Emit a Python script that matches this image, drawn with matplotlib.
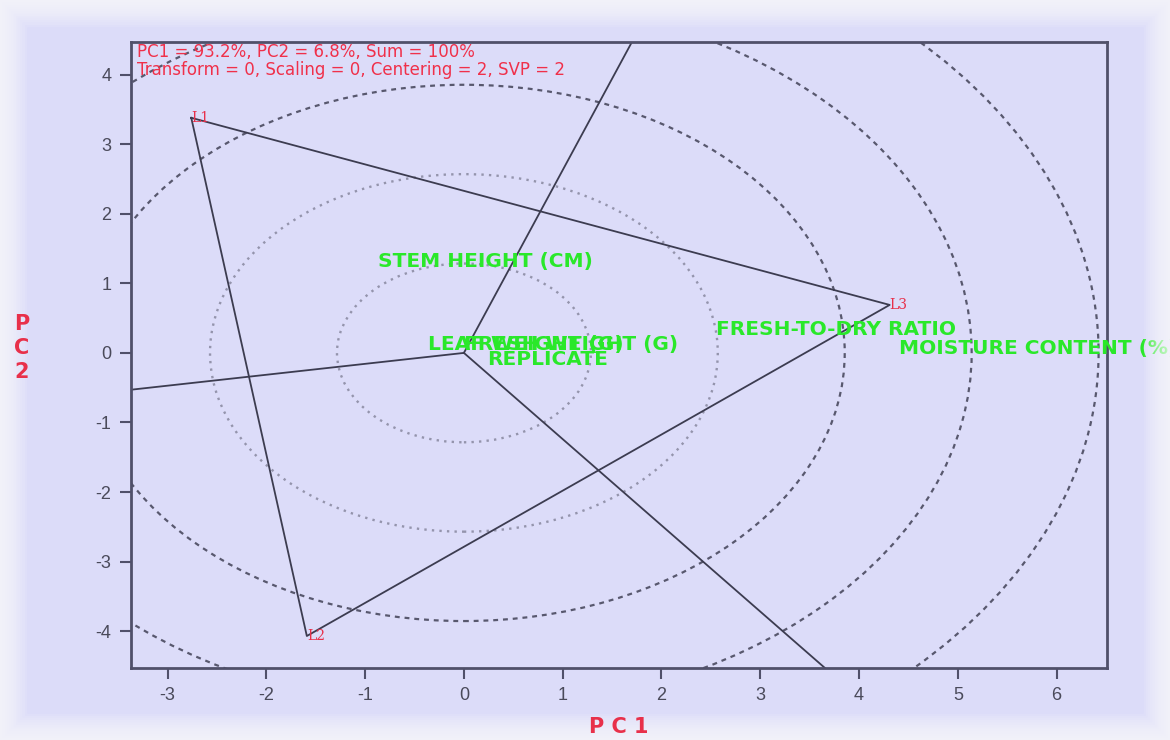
import numpy as np
import matplotlib
matplotlib.use("Agg")
import matplotlib.pyplot as plt
from matplotlib.patches import Circle, Rectangle

plt.rcParams["axes.unicode_minus"] = False

# ---- data ----
env_names = ["L1", "L2", "L3"]
env_x = [-2.76, -1.59, 4.31]
env_y = [3.38, -4.07, 0.69]

trait_names = ["STEM HEIGHT (CM)", "FRESH-TO-DRY RATIO", "MOISTURE CONTENT (%)",
               "LEAF WEIGHT (G)", "FRESH WEIGHT (G)", "REPLICATE"]
trait_x = [-0.87, 2.55, 4.40, -0.36, 0.0, 0.24]
trait_y = [1.31, 0.33, 0.06, 0.12, 0.12, -0.10]

circle_radii = [1.285, 2.57, 3.855, 5.14, 6.425]

x_ticks = [-3, -2, -1, 0, 1, 2, 3, 4, 5, 6]
y_ticks = [-4, -3, -2, -1, 0, 1, 2, 3, 4]
x_lim = (-3.37, 6.51)
y_lim = (-4.53, 4.47)

info_lines = ["PC1 = 93.2%, PC2 = 6.8%, Sum = 100%",
              "Transform = 0, Scaling = 0, Centering = 2, SVP = 2"]

# ---- figure ----
bg = "#dcdcf9"
fig = plt.figure(figsize=(11.7, 7.4), dpi=100, facecolor=bg)
# soft whitish frame around the figure
for i in range(12):
    fig.patches.append(Rectangle((0, 0), 1, 1, transform=fig.transFigure,
                                 fill=False, edgecolor="white",
                                 linewidth=2 * (12 - i) * 1.6, alpha=0.10, zorder=0))

ax = fig.add_axes([131 / 1170, 72 / 740, (1107 - 131) / 1170, (668 - 42) / 740])
ax.set_facecolor(bg)
ax.set_xlim(*x_lim)
ax.set_ylim(*y_lim)

# concentric circles
for k, r in enumerate(circle_radii):
    if k < 2:
        c = Circle((0, 0), r, fill=False, edgecolor="#9494ac", linewidth=1.7,
                   linestyle=(0, (1, 2.2)), zorder=1)
    else:
        c = Circle((0, 0), r, fill=False, edgecolor="#58586e", linewidth=1.6,
                   linestyle=(0, (2.2, 2.2)), zorder=1)
    ax.add_patch(c)

line_col = "#3c3c50"
# polygon
px = env_x + [env_x[0]]
py = env_y + [env_y[0]]
ax.plot(px, py, color=line_col, linewidth=1.3, zorder=2)

# perpendicular rays from origin to each polygon edge
for i in range(len(env_x)):
    j = (i + 1) % len(env_x)
    p1 = np.array([env_x[i], env_y[i]])
    p2 = np.array([env_x[j], env_y[j]])
    d = p2 - p1
    t = -np.dot(p1, d) / np.dot(d, d)
    foot = p1 + t * d
    u = foot / np.linalg.norm(foot)
    ax.plot([0, u[0] * 30], [0, u[1] * 30], color=line_col, linewidth=1.3, zorder=2)

# environment labels
for n, x, y in zip(env_names, env_x, env_y):
    ax.text(x, y, n, color="#e8304a", fontsize=10, family="DejaVu Serif",
            ha="left", va="center", zorder=4)

# trait labels
for n, x, y in zip(trait_names, trait_x, trait_y):
    ax.text(x, y, n, color="#2ae82a", fontsize=14.5, fontweight="bold",
            family="DejaVu Sans", ha="left", va="center", zorder=3,
            clip_on=False)

# info text
fig.text(137 / 1170, 1 - 52 / 740, info_lines[0], color="#f0304a",
         fontsize=12, family="DejaVu Sans", ha="left", va="center")
fig.text(137 / 1170, 1 - 70 / 740, info_lines[1], color="#f0304a",
         fontsize=12, family="DejaVu Sans", ha="left", va="center")

# axes styling
ax.set_xticks(x_ticks)
ax.set_yticks(y_ticks)
ax.tick_params(axis="both", direction="out", length=8, width=1.5,
               color="#50506a", labelcolor="#4a4a5a", labelsize=13, pad=6)
for lab in ax.get_xticklabels() + ax.get_yticklabels():
    lab.set_family("Liberation Sans")
for s in ax.spines.values():
    s.set_color("#50506a")
    s.set_linewidth(2)

fig.text(619 / 1170, 1 - 727 / 740, "P C 1", color="#e8304a", fontsize=15,
         fontweight="bold", family="DejaVu Sans", ha="center", va="center")
fig.text(22 / 1170, 1 - 348 / 740, "P\nC\n2", color="#e8304a", fontsize=15,
         fontweight="bold", family="DejaVu Sans", ha="center", va="center",
         linespacing=1.25)

fig.savefig("out.png", dpi=100, facecolor=bg)
